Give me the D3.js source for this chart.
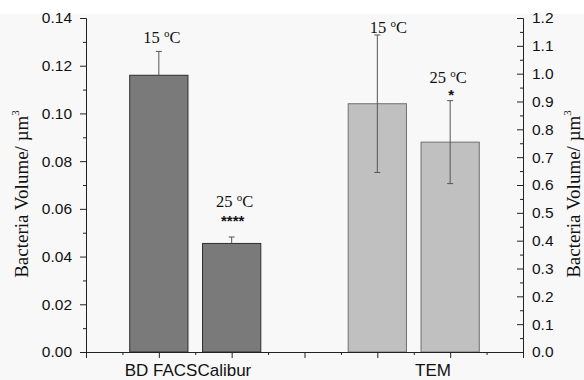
<!DOCTYPE html>
<html><head><meta charset="utf-8">
<script src="https://cdn.jsdelivr.net/npm/d3@7"></script>
<style>
html,body{margin:0;padding:0;background:#fff;}
svg{display:block;}
</style></head>
<body>
<script>
// ---- data ----
const categories = ["BD FACSCalibur", "TEM"];
const conditions = ["15 °C", "25 °C", "15 °C", "25 °C"];
const barCategory = ["BD FACSCalibur", "BD FACSCalibur", "TEM", "TEM"];
const barAxis = ["left", "left", "right", "right"];
const barValues = [0.116, 0.0455, 0.892, 0.754];
const barErrors = [0.0100, 0.0027, 0.247, 0.149];
const significance = ["", "****", "", "*"];
const leftTicks = [0.00, 0.02, 0.04, 0.06, 0.08, 0.10, 0.12, 0.14];
const rightTicks = [0.0, 0.1, 0.2, 0.3, 0.4, 0.5, 0.6, 0.7, 0.8, 0.9, 1.0, 1.1, 1.2];
const yTitle = "Bacteria Volume/ µm";

// ---- layout ----
const W = 584, H = 380;
const m = {l: 86, r: 61, t: 18, b: 28};
const svg = d3.select("body").append("svg").attr("width", W).attr("height", H);
svg.append("rect").attr("x", 0).attr("y", 14).attr("width", W).attr("height", H - 14).attr("fill", "#f8f8f8");

const x = d3.scaleLinear().domain([0, 12]).range([m.l, W - m.r]);
const barPos = [2, 4, 8, 10];
const catPos = [2.8, 9.53];
const barW = x(1.6) - x(0);
const yL = d3.scaleLinear().domain([0, 0.14]).range([H - m.b, m.t]);
const yR = d3.scaleLinear().domain([0, 1.2]).range([H - m.b, m.t]);
const yOf = i => barAxis[i] === "left" ? yL : yR;

const bars = barValues.map((v, i) => ({v, e: barErrors[i], i, pos: barPos[i], s: barAxis[i]}));

const g = svg.append("g");
function drawErr(d, full) {
  const y = yOf(d.i);
  const cx = x(d.pos);
  g.append("line").attr("x1", cx).attr("x2", cx)
    .attr("y1", full ? y(d.v - d.e) : y(d.v)).attr("y2", y(d.v + d.e))
    .attr("stroke", "#555").attr("stroke-width", 1);
  g.append("line").attr("x1", cx - 3).attr("x2", cx + 3).attr("y1", y(d.v + d.e)).attr("y2", y(d.v + d.e))
    .attr("stroke", "#555").attr("stroke-width", 1);
  if (full) g.append("line").attr("x1", cx - 3).attr("x2", cx + 3).attr("y1", y(d.v - d.e)).attr("y2", y(d.v - d.e))
    .attr("stroke", "#555").attr("stroke-width", 1);
}
bars.forEach(d => {
  const y = yOf(d.i);
  g.append("rect").attr("x", x(d.pos) - barW / 2).attr("y", y(d.v))
    .attr("width", barW).attr("height", y(0) - y(d.v))
    .attr("fill", d.s === "left" ? "#7a7a7a" : "#c0c0c0")
    .attr("stroke", d.s === "left" ? "#2e2e2e" : "#707070").attr("stroke-width", 1);
  drawErr(d, d.s === "right");
});

// axes
const tickFont = "'Liberation Sans', Arial, sans-serif";
const axL = d3.axisLeft(yL).tickValues(leftTicks).tickFormat(d3.format(".2f")).tickSize(6).tickPadding(8);
const axLm = d3.axisLeft(yL).tickValues(d3.range(0.01, 0.14, 0.02)).tickFormat("").tickSize(3);
svg.append("g").attr("transform", `translate(${m.l},0)`).call(axL);
svg.append("g").attr("transform", `translate(${m.l},0)`).call(axLm).select(".domain").remove();

const axR = d3.axisRight(yR).tickValues(rightTicks).tickFormat(d3.format(".1f")).tickSize(-6).tickPadding(9);
const axRm = d3.axisRight(yR).tickValues(d3.range(0.05, 1.2, 0.1)).tickFormat("").tickSize(-3);
svg.append("g").attr("transform", `translate(${W - m.r},0)`).call(axR);
svg.append("g").attr("transform", `translate(${W - m.r},0)`).call(axRm).select(".domain").remove();

const axB = d3.axisBottom(x).tickValues(d3.range(0, 13, 2)).tickFormat("").tickSize(6);
const axBm = d3.axisBottom(x).tickValues(d3.range(1, 12, 2)).tickFormat("").tickSize(3);
svg.append("g").attr("transform", `translate(0,${H - m.b})`).call(axB);
svg.append("g").attr("transform", `translate(0,${H - m.b})`).call(axBm).select(".domain").remove();

svg.selectAll(".domain").attr("stroke", "#222");
svg.selectAll(".tick line").attr("stroke", "#222");
svg.selectAll(".tick text").attr("font-family", tickFont).attr("font-size", 15.5).attr("fill", "#111");

// category labels
svg.selectAll(".cat").data(categories).enter().append("text")
  .attr("x", (d, i) => x(catPos[i])).attr("y", H - 4)
  .attr("text-anchor", "middle").attr("font-family", tickFont).attr("font-size", 17).attr("fill", "#111")
  .text(d => d);

// y titles
function yTitleText(sel) {
  sel.attr("font-family", "'Liberation Serif', 'Times New Roman', serif").attr("font-size", 19).attr("fill", "#111").attr("text-anchor", "middle");
  sel.append("tspan").text(yTitle);
  sel.append("tspan").attr("dy", -9).attr("font-size", 11).text("3");
}
svg.append("text").attr("transform", `translate(28,194) rotate(-90)`).call(yTitleText);
svg.append("text").attr("transform", `translate(580,194) rotate(-90)`).call(yTitleText);

// annotations
const labelY = [0.1295, 0.0608, 1.146, 0.967];
const starY = [null, 0.0530, null, 0.905];
const labelShift = [3, 3, 11, -2];
bars.forEach((d, i) => {
  const y = yOf(i);
  const t = svg.append("text").attr("x", x(d.pos) + labelShift[i]).attr("y", y(labelY[i]))
    .attr("text-anchor", "middle").attr("font-family", "'Liberation Serif', 'Times New Roman', serif")
    .attr("font-size", 16.5).attr("fill", "#111");
  const parts = conditions[i].split(" °");
  t.append("tspan").text(parts[0] + " ");
  t.append("tspan").attr("dy", -6).attr("font-size", 11).text("o");
  t.append("tspan").attr("dy", 6).text(parts[1]);
  if (significance[i]) {
    svg.append("text").attr("x", x(d.pos) + 1).attr("y", y(starY[i]))
      .attr("text-anchor", "middle").attr("font-family", "'Liberation Sans', Arial, sans-serif")
      .attr("font-weight", "bold").attr("font-size", 15).attr("fill", "#111").text(significance[i]);
  }
});
</script>
</body></html>
